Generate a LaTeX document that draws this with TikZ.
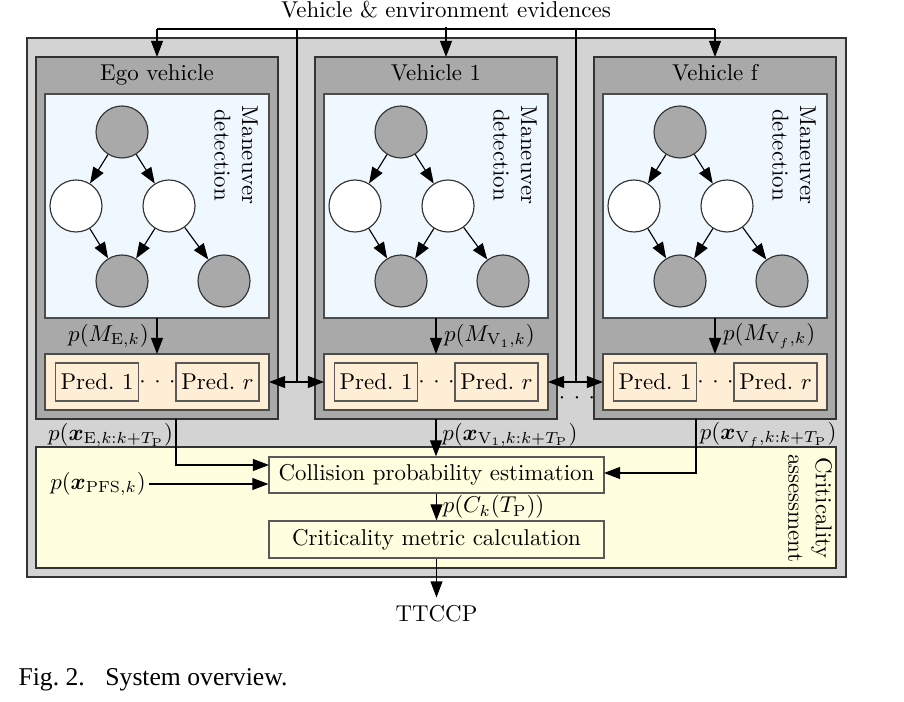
\documentclass[tikz,border=0pt]{standalone}
\usepackage{fontspec}
\usepackage{amsmath,bm}
\usetikzlibrary{arrows.meta}
\newfontfamily\capfont{Liberation Serif}
\definecolor{outergray}{RGB}{211,211,211}
\definecolor{vehgray}{RGB}{169,169,169}
\definecolor{mdblue}{RGB}{240,248,255}
\definecolor{predorange}{RGB}{255,238,214}
\definecolor{crityellow}{RGB}{255,255,224}
\newcommand{\pxunit}{0.01535cm}
\newcommand{\wdots}{$\mathord{\cdot}\hspace{3.7pt}\mathord{\cdot}\hspace{3.7pt}\mathord{\cdot}$}

\begin{document}
\begin{tikzpicture}[x=0.01535cm, y=-0.01535cm, line width=0.5pt,
    arr/.style={-{Triangle[length=7pt,width=5.2pt]}},
    twoarr/.style={{Triangle[length=7pt,width=5.2pt]}-{Triangle[length=7pt,width=5.2pt]}},
    panel/.style={draw=black!80, inner sep=0pt, outer sep=0pt, anchor=north west},
    hid/.style={circle, draw=black!80, fill=vehgray, minimum size=52*\pxunit, inner sep=0pt},
    obs/.style={hid, fill=white},
    predbox/.style={draw=black!65, fill=predorange, minimum width=83*\pxunit, minimum height=38*\pxunit, inner sep=0pt},
    calcbox/.style={draw=black!65, fill=crityellow, minimum width=335*\pxunit, minimum height=36*\pxunit, inner sep=0pt},
    lab/.style={inner sep=1pt}]
    \useasboundingbox (0,0) rectangle (904,702);
    \node[panel, fill=outergray, minimum width=819*\pxunit, minimum height=539*\pxunit] (all) at (27,38) {};
    % one panel per vehicle
    \foreach \i/\vname/\side/\lab in {0/{Ego vehicle}/left/{$p(M_{\mathrm{E},k})$},
                                     1/{Vehicle 1}/right/{$p(M_{\mathrm{V}_1,k})$},
                                     2/{Vehicle f}/right/{$p(M_{\mathrm{V}_f,k})$}} {
        \begin{scope}[shift={({279*\i},0)}]
            \node[panel, fill=vehgray, minimum width=242*\pxunit, minimum height=362*\pxunit] (veh\i) at (36,57) {};
            \node[anchor=base] (title\i) at (157,81) {\vname};
            \node[panel, draw=black!70, fill=mdblue, minimum width=224*\pxunit, minimum height=224*\pxunit] (md\i) at (45,94) {};
            \node[rotate=-90, align=center] (mdtext\i) at (236,155) {Maneuver\\detection};
            \node[hid] (top\i) at (122,132) {};
            \node[obs] (left\i) at (76,206) {};
            \node[obs] (right\i) at (169,206) {};
            \node[hid] (bl\i) at (122,281) {};
            \node[hid] (br\i) at (224,281) {};
            \draw[arr] (top\i) -- (left\i);
            \draw[arr] (top\i) -- (right\i);
            \draw[arr] (left\i) -- (bl\i);
            \draw[arr] (right\i) -- (bl\i);
            \draw[arr] (right\i) -- (br\i);
            \node[panel, draw=black!70, fill=predorange, minimum width=224*\pxunit, minimum height=56*\pxunit] (pa\i) at (45,354) {};
            \node[predbox] (pone\i) at (97,382) {Pred.~1};
            \node[predbox] (pr\i) at (217.5,382) {Pred.~$r$};
            \node[inner sep=0pt] (pdots\i) at (157.5,382) {\wdots};
            \draw[arr] (md\i.south) -- node[\side] {\lab} (pa\i.north);
        \end{scope}
    }
    % evidences
    \node[anchor=base] (ev) at (446,18) {Vehicle \& environment evidences};
    \coordinate (busl) at (157,29);
    \coordinate (busr) at (715,29);
    \coordinate (dropa) at (297,382);
    \coordinate (dropb) at (576,382);
    \draw (busl) -- (busr);
    \draw[arr] (busl) -- (veh0.north);
    \draw[arr] (ev.south) -- (ev.south |- veh1.north);
    \draw[arr] (busr) -- (veh2.north);
    \draw (dropa |- busl) -- (dropa);
    \draw (dropb |- busl) -- (dropb);
    \draw[twoarr] (pa0.east) -- (pa1.west);
    \draw[twoarr] (pa1.east) -- (pa2.west);
    \node[inner sep=0pt] (vdots) at (577,398) {\wdots};
    % criticality assessment
    \node[panel, fill=crityellow, minimum width=800*\pxunit, minimum height=121*\pxunit] (crit) at (36,447) {};
    \node[rotate=-90, align=center] (crittext) at (810,508) {Criticality\\assessment};
    \node[calcbox] (coll) at (436.5,475) {Collision probability estimation};
    \node[calcbox, minimum height=37*\pxunit] (metric) at (436.5,539.5) {Criticality metric calculation};
    \coordinate (egoout) at (176,419);
    \coordinate (egoin) at (269,465);
    \coordinate (vfout) at (696,419);
    \coordinate (vfin) at (604,473);
    \draw[arr] (egoout) |- (egoin);
    \draw[arr] (vfout) |- (vfin);
    \draw[arr] (veh1.south) -- node[pos=0.42, right, inner sep=2.5pt] {$p(\bm{x}_{\mathrm{V}_1,k:k+T_\mathrm{P}})$} (veh1.south |- coll.north);
    \node[lab, anchor=east] (egolab) at (176,435) {$p(\bm{x}_{\mathrm{E},k:k+T_\mathrm{P}})$};
    \node[lab, anchor=west] (vflab) at (697,435) {$p(\bm{x}_{\mathrm{V}_f,k:k+T_\mathrm{P}})$};
    \node[lab] (pfs) at (98,484) {$p(\bm{x}_{\mathrm{PFS},k})$};
    \draw[arr] (pfs.east) -- (pfs.east -| coll.west);
    \draw[arr] (coll.south) -- node[right, inner sep=2.5pt] {$p(C_k(T_\mathrm{P}))$} (metric.north);
    \node (ttccp) at (436.5,614) {TTCCP};
    \draw[arr] (metric.south) -- (ttccp.north);
    \node[anchor=west, inner sep=0pt, font=\capfont\fontsize{11.2}{13}\selectfont] (cap) at (18,680) {Fig.~2.\hspace{9pt}System overview.};
\end{tikzpicture}
\end{document}
